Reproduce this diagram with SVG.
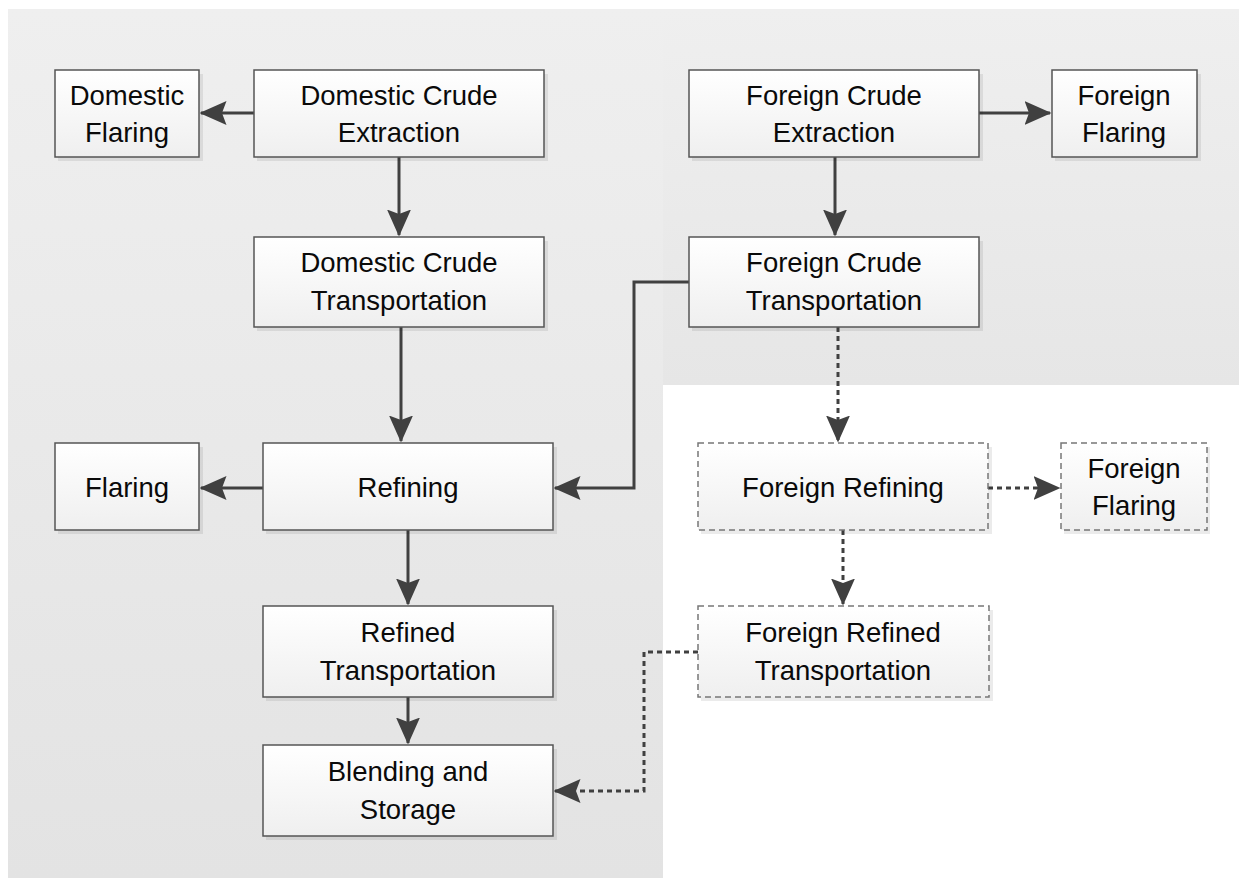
<svg xmlns="http://www.w3.org/2000/svg" width="1239" height="878" viewBox="0 0 1239 878">
<style>
.box{fill:url(#bf);stroke:#555;stroke-width:1.5}
.dbox{fill:url(#bf);stroke:#777;stroke-width:1.5;stroke-dasharray:6,4}
.sh{fill:#000;opacity:0.08}
text{font-family:"Liberation Sans",Arial,sans-serif;font-size:27.5px;fill:#0a0a0a;text-anchor:middle}
.c{fill:none;stroke:#404040;stroke-width:3}
.d{fill:none;stroke:#404040;stroke-width:3;stroke-dasharray:5,4}
</style>
<defs>
<linearGradient id="bf" x1="0" y1="0" x2="0" y2="1"><stop offset="0" stop-color="#ffffff"/><stop offset="1" stop-color="#efefef"/></linearGradient>
<linearGradient id="bgl" x1="0" y1="0" x2="0" y2="1"><stop offset="0" stop-color="#efefef"/><stop offset="1" stop-color="#e3e3e3"/></linearGradient>
<linearGradient id="bgr" x1="0" y1="0" x2="0" y2="1"><stop offset="0" stop-color="#efefef"/><stop offset="1" stop-color="#e6e6e6"/></linearGradient>
<marker id="ah" markerWidth="9" markerHeight="8" refX="8.5" refY="4" orient="auto" markerUnits="strokeWidth"><path d="M0,0 L9,4 L0,8 L1.5,4 Z" fill="#404040"/></marker>
</defs>
<rect width="1239" height="878" fill="#fff"/>
<rect x="8" y="9" width="655" height="869" fill="url(#bgl)"/>
<rect x="663" y="9" width="576" height="376" fill="url(#bgr)"/>

<g id="connectors">
<line class="c" x1="254" y1="113" x2="201" y2="113" marker-end="url(#ah)"/>
<line class="c" x1="399" y1="157" x2="399" y2="235" marker-end="url(#ah)"/>
<line class="c" x1="979" y1="113" x2="1050" y2="113" marker-end="url(#ah)"/>
<line class="c" x1="835" y1="157" x2="835" y2="235" marker-end="url(#ah)"/>
<line class="c" x1="401" y1="327" x2="401" y2="441" marker-end="url(#ah)"/>
<polyline class="c" points="689,282 634,282 634,488 555,488" marker-end="url(#ah)"/>
<line class="c" x1="263" y1="488" x2="201" y2="488" marker-end="url(#ah)"/>
<line class="c" x1="408" y1="530" x2="408" y2="604" marker-end="url(#ah)"/>
<line class="c" x1="408" y1="697" x2="408" y2="743" marker-end="url(#ah)"/>
<line class="d" x1="838" y1="327" x2="838" y2="441" marker-end="url(#ah)"/>
<line class="d" x1="988" y1="488" x2="1059" y2="488" marker-end="url(#ah)"/>
<line class="d" x1="843" y1="530" x2="843" y2="604" marker-end="url(#ah)"/>
<polyline class="d" points="698,652 644,652 644,791 555,791" marker-end="url(#ah)"/>
</g>

<g id="n-domestic-flaring"><rect class="sh" x="58" y="74" width="145" height="87"/><rect class="box" x="55" y="70" width="144" height="87"/><text x="127" y="105">Domestic</text><text x="127" y="142">Flaring</text></g>
<g id="n-dce"><rect class="sh" x="257" y="74" width="291" height="87"/><rect class="box" x="254" y="70" width="290" height="87"/><text x="399" y="105">Domestic Crude</text><text x="399" y="142">Extraction</text></g>
<g id="n-fce"><rect class="sh" x="692" y="74" width="291" height="87"/><rect class="box" x="689" y="70" width="290" height="87"/><text x="834" y="105">Foreign Crude</text><text x="834" y="142">Extraction</text></g>
<g id="n-foreign-flaring"><rect class="sh" x="1055" y="74" width="146" height="87"/><rect class="box" x="1052" y="70" width="145" height="87"/><text x="1124" y="105">Foreign</text><text x="1124" y="142">Flaring</text></g>
<g id="n-dct"><rect class="sh" x="257" y="241" width="291" height="90"/><rect class="box" x="254" y="237" width="290" height="90"/><text x="399" y="272">Domestic Crude</text><text x="399" y="310">Transportation</text></g>
<g id="n-fct"><rect class="sh" x="692" y="241" width="291" height="90"/><rect class="box" x="689" y="237" width="290" height="90"/><text x="834" y="272">Foreign Crude</text><text x="834" y="310">Transportation</text></g>
<g id="n-flaring"><rect class="sh" x="58" y="447" width="145" height="87"/><rect class="box" x="55" y="443" width="144" height="87"/><text x="127" y="497">Flaring</text></g>
<g id="n-refining"><rect class="sh" x="266" y="447" width="291" height="87"/><rect class="box" x="263" y="443" width="290" height="87"/><text x="408" y="497">Refining</text></g>
<g id="n-foreign-refining"><rect class="sh" x="701" y="447" width="291" height="87"/><rect class="dbox" x="698" y="443" width="290" height="87"/><text x="843" y="497">Foreign Refining</text></g>
<g id="n-foreign-flaring-2"><rect class="sh" x="1064" y="447" width="146" height="87"/><rect class="dbox" x="1061" y="443" width="146" height="87"/><text x="1134" y="478">Foreign</text><text x="1134" y="515">Flaring</text></g>
<g id="n-refined-transportation"><rect class="sh" x="266" y="610" width="291" height="91"/><rect class="box" x="263" y="606" width="290" height="91"/><text x="408" y="642">Refined</text><text x="408" y="680">Transportation</text></g>
<g id="n-foreign-refined-transportation"><rect class="sh" x="701" y="610" width="292" height="91"/><rect class="dbox" x="698" y="606" width="291" height="91"/><text x="843" y="642">Foreign Refined</text><text x="843" y="680">Transportation</text></g>
<g id="n-blending"><rect class="sh" x="266" y="749" width="291" height="91"/><rect class="box" x="263" y="745" width="290" height="91"/><text x="408" y="781">Blending and</text><text x="408" y="819">Storage</text></g>
</svg>
